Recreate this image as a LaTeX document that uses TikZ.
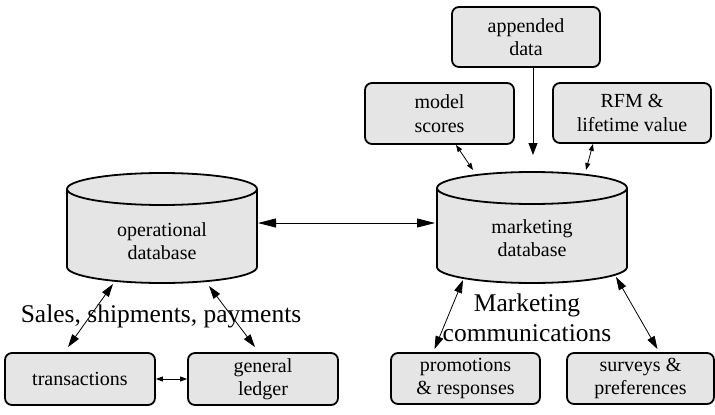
\documentclass[tikz,border=0pt]{standalone}
\usepackage{fontspec}
\setmainfont{Liberation Serif}
\usetikzlibrary{arrows.meta}
\definecolor{boxfill}{gray}{0.9}
\tikzset{
  x=1pt, y=-1pt,
  box/.style={draw, line width=1.8pt, rounded corners=7pt, fill=boxfill,
    align=center, inner sep=0pt, font=\fontsize{20}{23.5}\selectfont},
  cyl/.style={draw, line width=1.8pt, fill=boxfill},
  cyltext/.style={align=center, font=\fontsize{20}{23.5}\selectfont},
  biglabel/.style={align=center, font=\fontsize{25.5}{30}\selectfont},
  bigtip/.style={{Triangle[length=13pt,width=8pt]}-{Triangle[length=13pt,width=8pt]}, line width=0.8pt},
  smalltip/.style={{Triangle[length=7pt,width=5pt]}-{Triangle[length=7pt,width=5pt]}, line width=0.8pt},
  onetip/.style={-{Triangle[length=12pt,width=9pt]}, line width=0.8pt},
  widetip/.style={{Triangle[length=18pt,width=9pt]}-{Triangle[length=18pt,width=9pt]}, line width=0.8pt},
}
\begin{document}
\begin{tikzpicture}
\useasboundingbox (0,0) rectangle (715,415);

% operational database cylinder
\path[cyl] (67,189) -- (67,267) arc[start angle=180, end angle=360, x radius=95pt, y radius=16pt] -- (257,189);
\path[cyl] (162,189) ellipse[x radius=95pt, y radius=16pt];
\node[cyltext] (opdb) at (162,241) {operational\\database};

% marketing database cylinder
\path[cyl] (437,188) -- (437,267) arc[start angle=180, end angle=360, x radius=95pt, y radius=16pt] -- (627,188);
\path[cyl] (532,188) ellipse[x radius=95pt, y radius=16pt];
\node[cyltext] (mkdb) at (532,238) {marketing\\database};

% boxes
\node[box, minimum width=150pt, minimum height=52pt] (trans) at (80,379) {transactions};
\node[box, minimum width=150pt, minimum height=52pt] (ledger) at (263,379) {general\\ledger};
\node[box, minimum width=148pt, minimum height=60pt] (append) at (526,37) {appended\\data};
\node[box, minimum width=149pt, minimum height=61pt] (model) at (439.5,113.5) {model\\scores};
\node[box, minimum width=158pt, minimum height=60pt] (rfm) at (632,113) {RFM \&\\lifetime value};
\node[box, minimum width=149pt, minimum height=51pt] (promo) at (465.5,378.5) {promotions\\\& responses};
\node[box, minimum width=147pt, minimum height=51pt] (survey) at (640.5,378.5) {surveys \&\\preferences};

% labels
\node[biglabel] (sales) at (161,316) {Sales, shipments, payments};
\node[biglabel] (mcomm) at (527,318) {Marketing\\communications};

% connection points on the cylinders
\coordinate (op-e) at (258,223);
\coordinate (op-sw) at (113,284);
\coordinate (op-se) at (209,286);
\coordinate (mk-w) at (435,223);
\coordinate (mk-n) at (533,155);
\coordinate (mk-nw) at (473,170);
\coordinate (mk-ne) at (586,170);
\coordinate (mk-sw) at (463,280);
\coordinate (mk-se) at (616,277);

% connectors
\draw[widetip] (op-e) -- (mk-w);
\draw[bigtip] (op-sw) -- ([xshift=-12pt,yshift=5pt]trans.north);
\draw[bigtip] (op-se) -- ([xshift=-8pt,yshift=5pt]ledger.north);
\draw[smalltip] (trans.east) -- (ledger.west);
\draw[onetip] (append.south -| mk-n) -- (mk-n);
\draw[smalltip] ([xshift=16.5pt]model.south) -- (mk-nw);
\draw[smalltip] ([xshift=-39pt]rfm.south) -- (mk-ne);
\draw[bigtip] (mk-sw) -- ([xshift=-31pt,yshift=3pt]promo.north);
\draw[bigtip] (mk-se) -- ([xshift=17pt,yshift=3pt]survey.north);
\end{tikzpicture}
\end{document}
